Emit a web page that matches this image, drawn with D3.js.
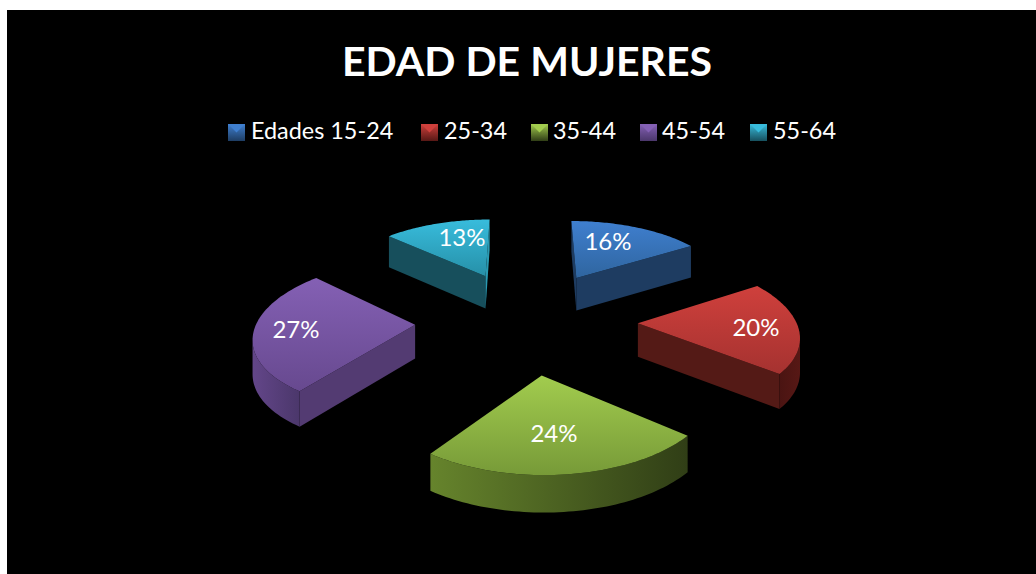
<!DOCTYPE html>
<html><head><meta charset="utf-8">
<script src="https://cdnjs.cloudflare.com/ajax/libs/d3/7.8.5/d3.min.js"></script>
<style>html,body{margin:0;padding:0;background:#fff}svg{display:block}text{font-family:Lato,"Open Sans",sans-serif;fill:#fff}</style>
</head><body><svg id="c" width="1036" height="574"></svg>
<script>
const categories = ["Edades 15-24","25-34","35-44","45-54","55-64"];
const values = [16,20,24,27,13];
const labels = ["16%","20%","24%","27%","13%"];
const topColors = [["#3f7fcf","#2f659f"],["#cf403c","#a53230"],["#a2cc4e","#779a38"],["#8460b4","#67498f"],["#38bcdc","#2690a8"]];
const rimColors = [["#1e3d63","#1e3d63"],["#4a1412","#571815"],["#66842c","#303e16"],["#634689","#4b376b"],["#17505e","#17505e"]];
const wallColors = [["#1e3c61","#1e3c61"],["#541a16","#541a16"],["#4c6322","#4c6322"],["#533b72","#533b72"],["#174f5c","#2a9ab2"]];
const labelPos = [[608,241],[756,327],[554,433],[296,329],[462,237]];
const legendX = [228,421,531,640,750];
const legendTextX = [251,444,553,662,773];

const svg = d3.select("#c");
svg.append("rect").attr("x",7).attr("y",10).attr("width",1029).attr("height",564).attr("fill","#000");
const defs = svg.append("defs");

const cx=526.5, cy=320, R=158, E=111, H=33.5, A=0.00075, B=0.462;
const proj=(X,Z,down)=>{const w=1-A*Z; return [cx+X/w, cy+B*Z/w+(down?H/Math.sqrt(w):0)];};
const line=d3.line();
const area=p=>d3.polygonArea(p);

const arcs=d3.pie().value(d=>d).sort(null)(values);
const g=svg.append("g");

function grad(id,c,x1,y1,x2,y2){
  const l=defs.append("linearGradient").attr("id",id).attr("gradientUnits","userSpaceOnUse")
    .attr("x1",x1).attr("y1",y1).attr("x2",x2).attr("y2",y2);
  l.append("stop").attr("offset",0).attr("stop-color",c[0]);
  l.append("stop").attr("offset",1).attr("stop-color",c[1]);
  return `url(#${id})`;
}

arcs.forEach((a,i)=>{
  const mid=(a.startAngle+a.endAngle)/2;
  const ox=E*Math.sin(mid), oz=-E*Math.cos(mid);
  const P=(t,r)=>[ox+r*Math.sin(t), oz-r*Math.cos(t)];
  const n=60, ts=d3.range(n+1).map(k=>a.startAngle+(a.endAngle-a.startAngle)*k/n);
  const topArc=ts.map(t=>proj(...P(t,R),false));
  const botArc=ts.map(t=>proj(...P(t,R),true));
  const apexT=proj(...P(0,0),false), apexB=proj(...P(0,0),true);
  const top=[apexT,...topArc];
  const sl=g.append("g");

  // side walls: only those turned toward the viewer
  const wall=(pT,pB,qT,qB,fill)=>sl.append("path").attr("d",line([pT,qT,qB,pB])+"Z").attr("fill",fill);
  const sgn=Math.sign(area(top));
  const face=(p,q)=>Math.sign(area([p,q,[q[0],q[1]+10],[p[0],p[1]+10]]))!==sgn;
  const wc=wallColors[i];
  if(face(apexT,topArc[0])) wall(apexT,apexB,topArc[0],botArc[0],wc[0]);
  if(face(topArc[n],apexT)) wall(apexT,apexB,topArc[n],botArc[n],wc[1]);

  const idx=d3.range(n).filter(k=>face(topArc[k],topArc[k+1]));
  if(idx.length){
    const a0=idx[0], a1=idx[idx.length-1]+1;
    const upper=topArc.slice(a0,a1+1), lower=botArc.slice(a0,a1+1).reverse();
    const xs=upper.map(p=>p[0]);
    const left=d3.min(xs), right=d3.max(xs);
    sl.append("path").attr("d",line([...upper,...lower])+"Z")
      .attr("fill",grad("r"+i,rimColors[i],left,0,right,0));
  }
  const ys=top.map(p=>p[1]);
  sl.append("path").attr("d",line(top)+"Z")
    .attr("fill",grad("t"+i,topColors[i],0,d3.min(ys),0,d3.max(ys)));
  sl.append("text").attr("x",labelPos[i][0]).attr("y",labelPos[i][1]).attr("dy","0.36em")
    .attr("text-anchor","middle").attr("font-size",24).text(labels[i]);
});

svg.append("text").attr("x",527).attr("y",61).attr("dy","0.36em").attr("text-anchor","middle")
  .attr("font-size",41).attr("font-weight",700).text("EDAD DE MUJERES");

categories.forEach((c,i)=>{
  const x=legendX[i], y=124, s=17;
  const col=topColors[i];
  const lg=svg.append("g");
  lg.append("rect").attr("x",x).attr("y",y).attr("width",s).attr("height",s)
    .attr("fill",grad("lg"+i,[col[0],rimColors[i][1]],0,y,0,y+s));
  lg.append("path").attr("d",line([[x,y],[x+s,y],[x+s/2,y+s*0.5]])+"Z").attr("fill",col[0]);
  lg.append("text").attr("x",legendTextX[i]).attr("y",131).attr("dy","0.36em")
    .attr("font-size",23.4).text(c);
});
</script></body></html>
